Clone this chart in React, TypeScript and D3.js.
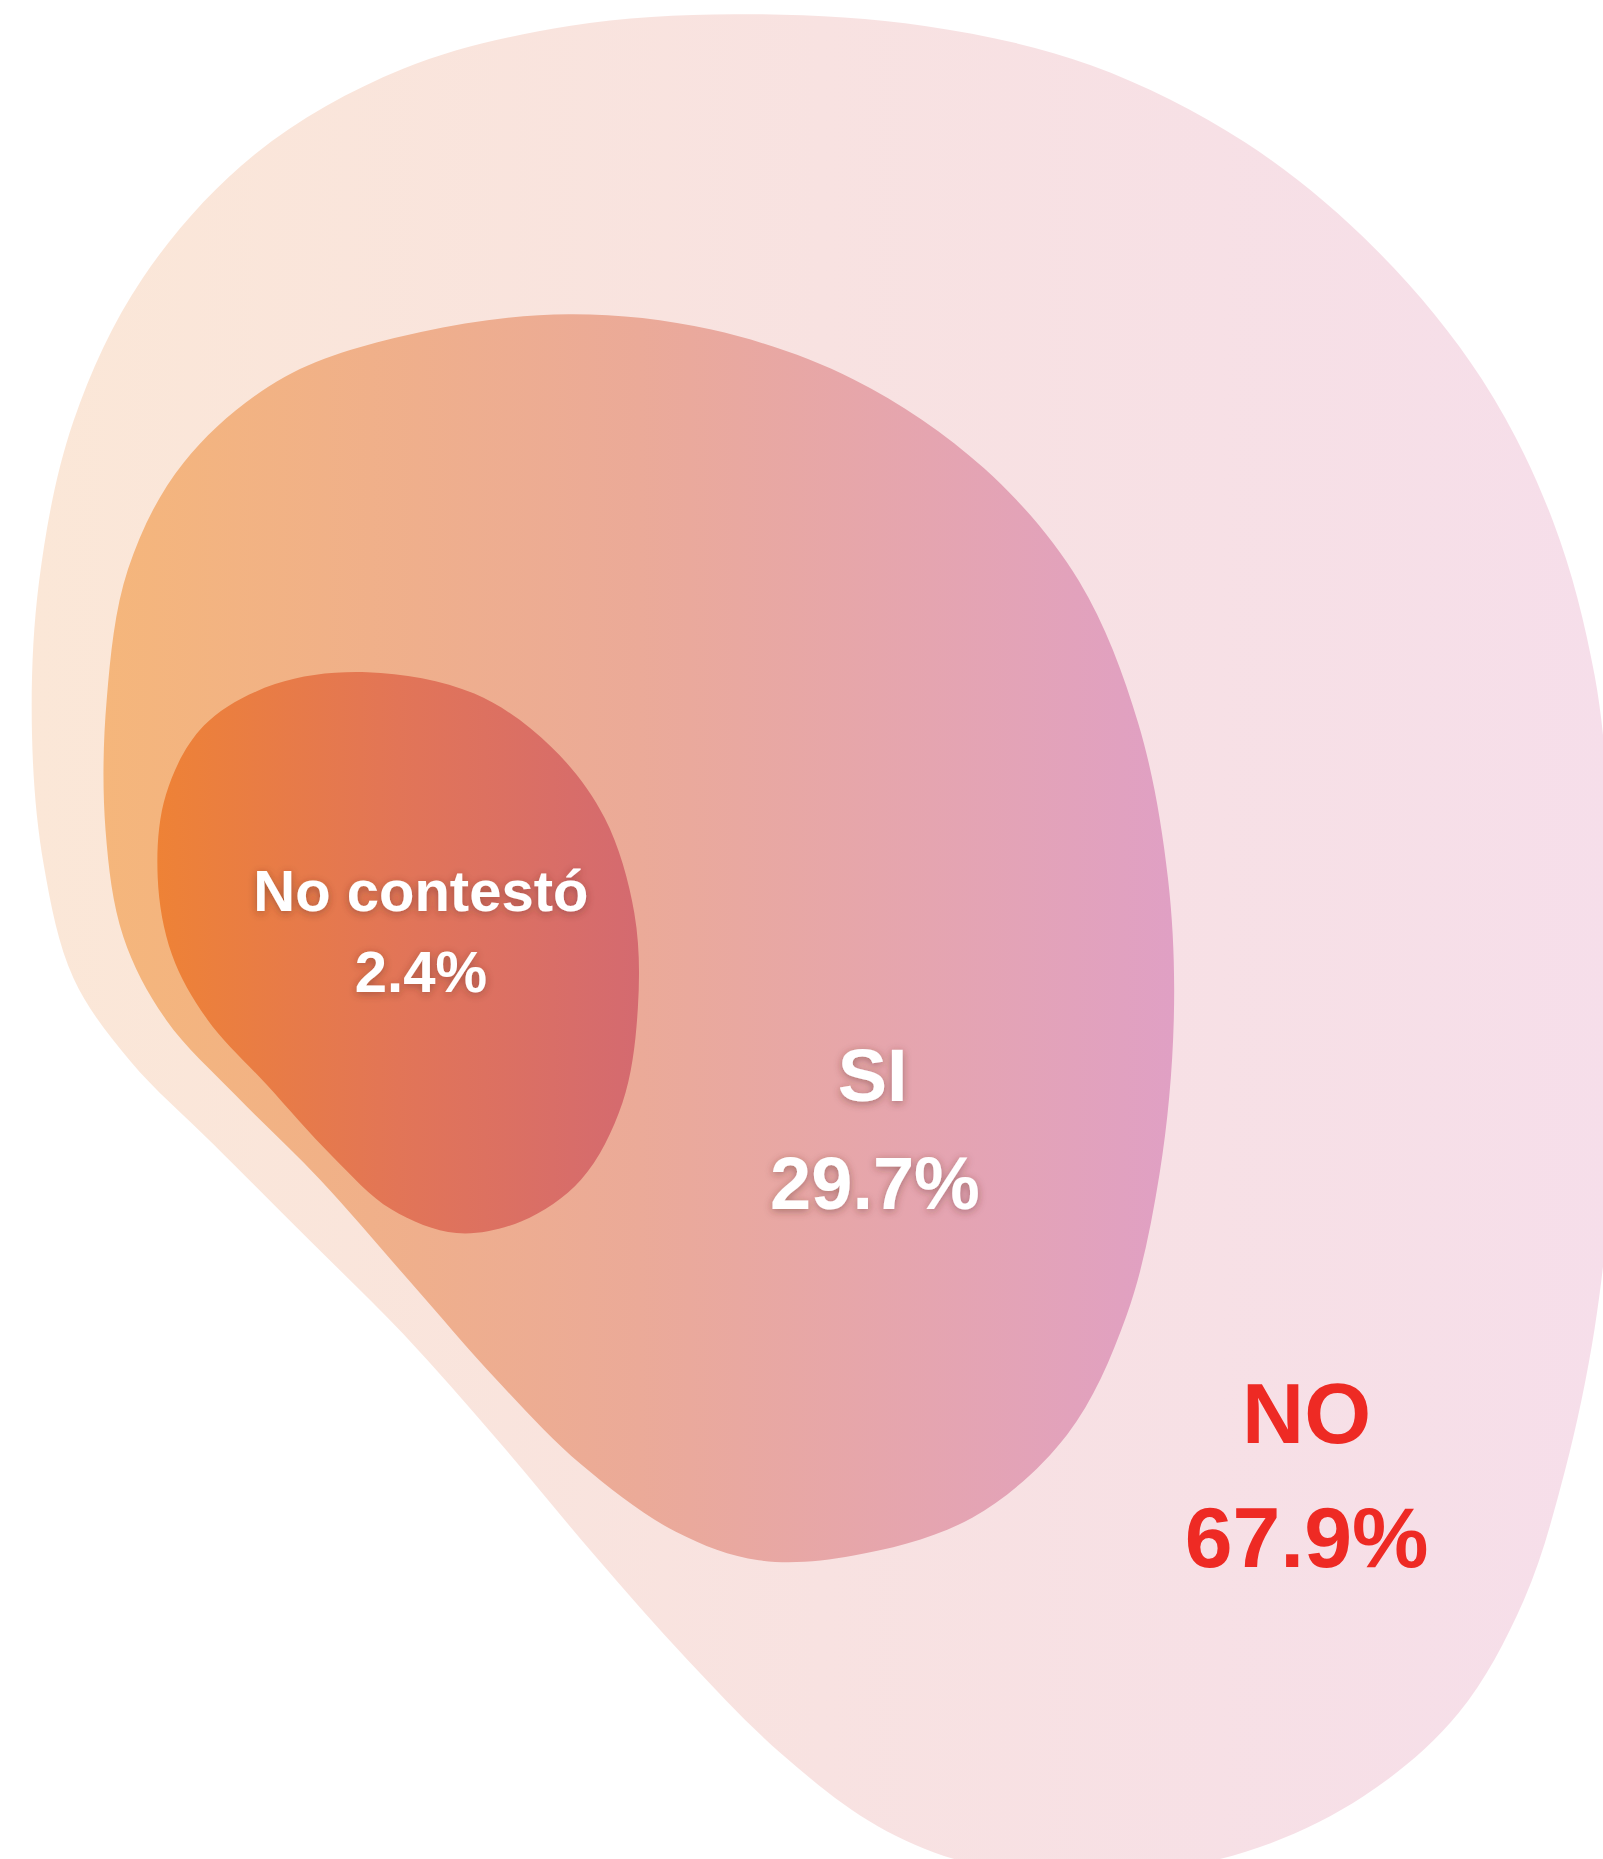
import React from "react";
import * as d3 from "d3";

const categories = ["NO", "SI", "No contestó"];
const values = [67.9, 29.7, 2.4];
const labelColors = ["#EE2A24", "#FFFFFF", "#FFFFFF"];
const gradientStops = [
  ["#FBE7D7", "#F8E2E1", "#F6DEEA"],
  ["#F5B67B", "#EBAA98", "#E0A0C4"],
  ["#EE8236", "#E27557", "#D46A70"],
];

// blob outlines in chart units (0..1352 x 0..1568)
const outlineNO: [number, number][] = [
  [620, 12], [780, 22], [920, 55], [1050, 120], [1160, 210], [1250, 320], [1310, 440],
  [1345, 570], [1358, 700], [1362, 850], [1358, 1000], [1345, 1120], [1320, 1240],
  [1285, 1350], [1230, 1445], [1150, 1515], [1050, 1562], [930, 1582], [820, 1572],
  [740, 1540], [660, 1480], [580, 1400], [500, 1310], [420, 1215], [340, 1125],
  [260, 1045], [180, 965], [110, 895], [62, 825], [37, 730], [27, 620], [33, 490],
  [62, 355], [120, 235], [215, 130], [340, 58], [480, 22],
];
const outlineSI: [number, number][] = [
  [480, 265], [600, 278], [720, 320], [830, 395], [910, 490], [960, 610], [985, 740],
  [990, 860], [978, 990], [950, 1110], [900, 1210], [820, 1280], [720, 1312],
  [640, 1316], [570, 1292], [490, 1235], [420, 1165], [345, 1080], [270, 995],
  [200, 925], [140, 860], [104, 790], [89, 700], [90, 590], [108, 480], [155, 390],
  [240, 318], [355, 280],
];
const outlineNC: [number, number][] = [
  [310, 567], [400, 585], [465, 630], [510, 690], [535, 770], [538, 850], [525, 930],
  [490, 995], [440, 1030], [385, 1040], [330, 1020], [280, 975], [225, 915],
  [175, 860], [145, 805], [133, 740], [140, 670], [172, 612], [232, 577],
];
const outlines = [outlineNO, outlineSI, outlineNC];

// label anchors (chart units, 1352-wide space) and font sizes (px)
const labelPos: [number, number][] = [[1102, 1217], [736, 929], [355, 768]];
const valuePos: [number, number][] = [[1102, 1322], [738, 1020], [355, 837]];
const nameSizes = [86, 74, 58];
const valueSizes = [86, 74, 58];

export default function App() {
  const W = 1603;
  const H = 1859;
  const k = W / 1352;
  const x = d3.scaleLinear().domain([0, 1352]).range([0, W]);
  const y = d3.scaleLinear().domain([0, 1568]).range([0, 1568 * k]);
  const line = d3
    .line<[number, number]>()
    .x((d) => x(d[0]))
    .y((d) => y(d[1]))
    .curve(d3.curveCatmullRomClosed.alpha(0.5));

  return (
    <svg
      width={W}
      height={H}
      style={{ position: "absolute", left: 0, top: 0, display: "block", background: "#fff" }}
    >
      <defs>
        {gradientStops.map((stops, i) => (
          <linearGradient key={i} id={`g${i}`} x1="0" y1="0" x2="1" y2="0">
            <stop offset="0%" stopColor={stops[0]} />
            <stop offset="50%" stopColor={stops[1]} />
            <stop offset="100%" stopColor={stops[2]} />
          </linearGradient>
        ))}
        <filter id="shadow" x="-20%" y="-50%" width="140%" height="200%">
          <feDropShadow dx="0" dy="2" stdDeviation="4" floodColor="#5a2a20" floodOpacity="0.45" />
        </filter>
      </defs>
      {outlines.map((pts, i) => (
        <path key={categories[i]} d={line(pts) || ""} fill={`url(#g${i})`} />
      ))}
      {categories.map((c, i) => (
        <g
          key={"t" + c}
          fontFamily="'Liberation Sans', Arial, Helvetica, sans-serif"
          fontWeight="bold"
          textAnchor="middle"
          fill={labelColors[i]}
          filter={i === 0 ? undefined : "url(#shadow)"}
        >
          <text x={x(labelPos[i][0])} y={y(labelPos[i][1])} fontSize={nameSizes[i]}>
            {c}
          </text>
          <text x={x(valuePos[i][0])} y={y(valuePos[i][1])} fontSize={valueSizes[i]}>
            {values[i].toFixed(1) + "%"}
          </text>
        </g>
      ))}
    </svg>
  );
}
